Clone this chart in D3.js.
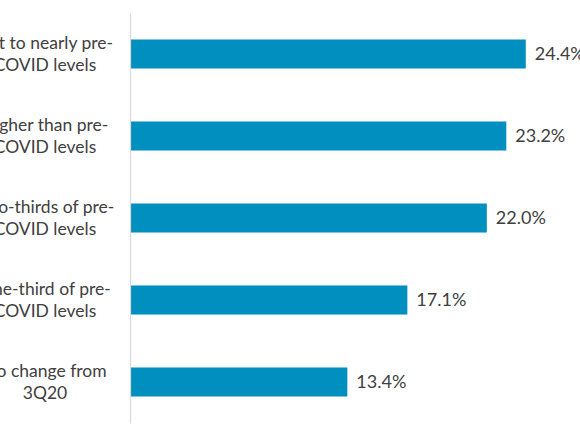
<!DOCTYPE html>
<html>
<head>
<meta charset="utf-8">
<script src="https://cdn.jsdelivr.net/npm/d3@7"></script>
<style>
  html, body { margin: 0; padding: 0; background: #ffffff; overflow: hidden; }
  svg { display: block; }
  text { font-family: Lato, "Open Sans", sans-serif; fill: #404040; }
</style>
</head>
<body>
<svg id="chart" width="580" height="435"></svg>
<script>
const categories = [
  "Get to nearly pre-\nCOVID levels",
  "Higher than pre-\nCOVID levels",
  "Two-thirds of pre-\nCOVID levels",
  "One-third of pre-\nCOVID levels",
  "No change from\n3Q20"
];
const values = [24.4, 23.2, 22.0, 17.1, 13.4];
const valueLabels = ["24.4%", "23.2%", "22.0%", "17.1%", "13.4%"];

const svg = d3.select("#chart");
const axisX = 130;

const x = d3.scaleLinear().domain([0, 25]).range([axisX, axisX + 25 * 16.22]);
const y = d3.scaleBand().domain(categories).range([13, 423])
  .paddingInner(0.646).paddingOuter(0.323);

// bars
svg.append("g").selectAll("rect")
  .data(values)
  .join("rect")
  .attr("x", x(0))
  .attr("y", (d, i) => y(categories[i]))
  .attr("width", d => x(d) - x(0))
  .attr("height", y.bandwidth())
  .attr("fill", "#008FBF");

// axis line
const yAxis = d3.axisLeft(y).tickSize(0).tickFormat("");
const ag = svg.append("g").attr("transform", `translate(${axisX},0)`).call(yAxis);
ag.select(".domain").attr("stroke", "#d9d9d9").attr("stroke-width", 1.2);

// category labels (wrapped, centered)
const labelCenter = 45;
const lineH = 22;
categories.forEach((c, i) => {
  const lines = c.split("\n");
  const cy = y(c) + y.bandwidth() / 2;
  const t = svg.append("text")
    .attr("text-anchor", "middle")
    .attr("font-size", 17.5);
  lines.forEach((ln, j) => {
    t.append("tspan")
      .attr("x", labelCenter)
      .attr("y", cy + (j - (lines.length - 1) / 2) * lineH)
      .attr("dy", "0.35em")
      .text(ln);
  });
});

// value labels
svg.append("g").selectAll("text")
  .data(values)
  .join("text")
  .attr("x", d => x(d) + 9)
  .attr("y", (d, i) => y(categories[i]) + y.bandwidth() / 2)
  .attr("dy", "0.35em")
  .attr("font-size", 18)
  .text((d, i) => valueLabels[i]);
</script>
</body>
</html>
